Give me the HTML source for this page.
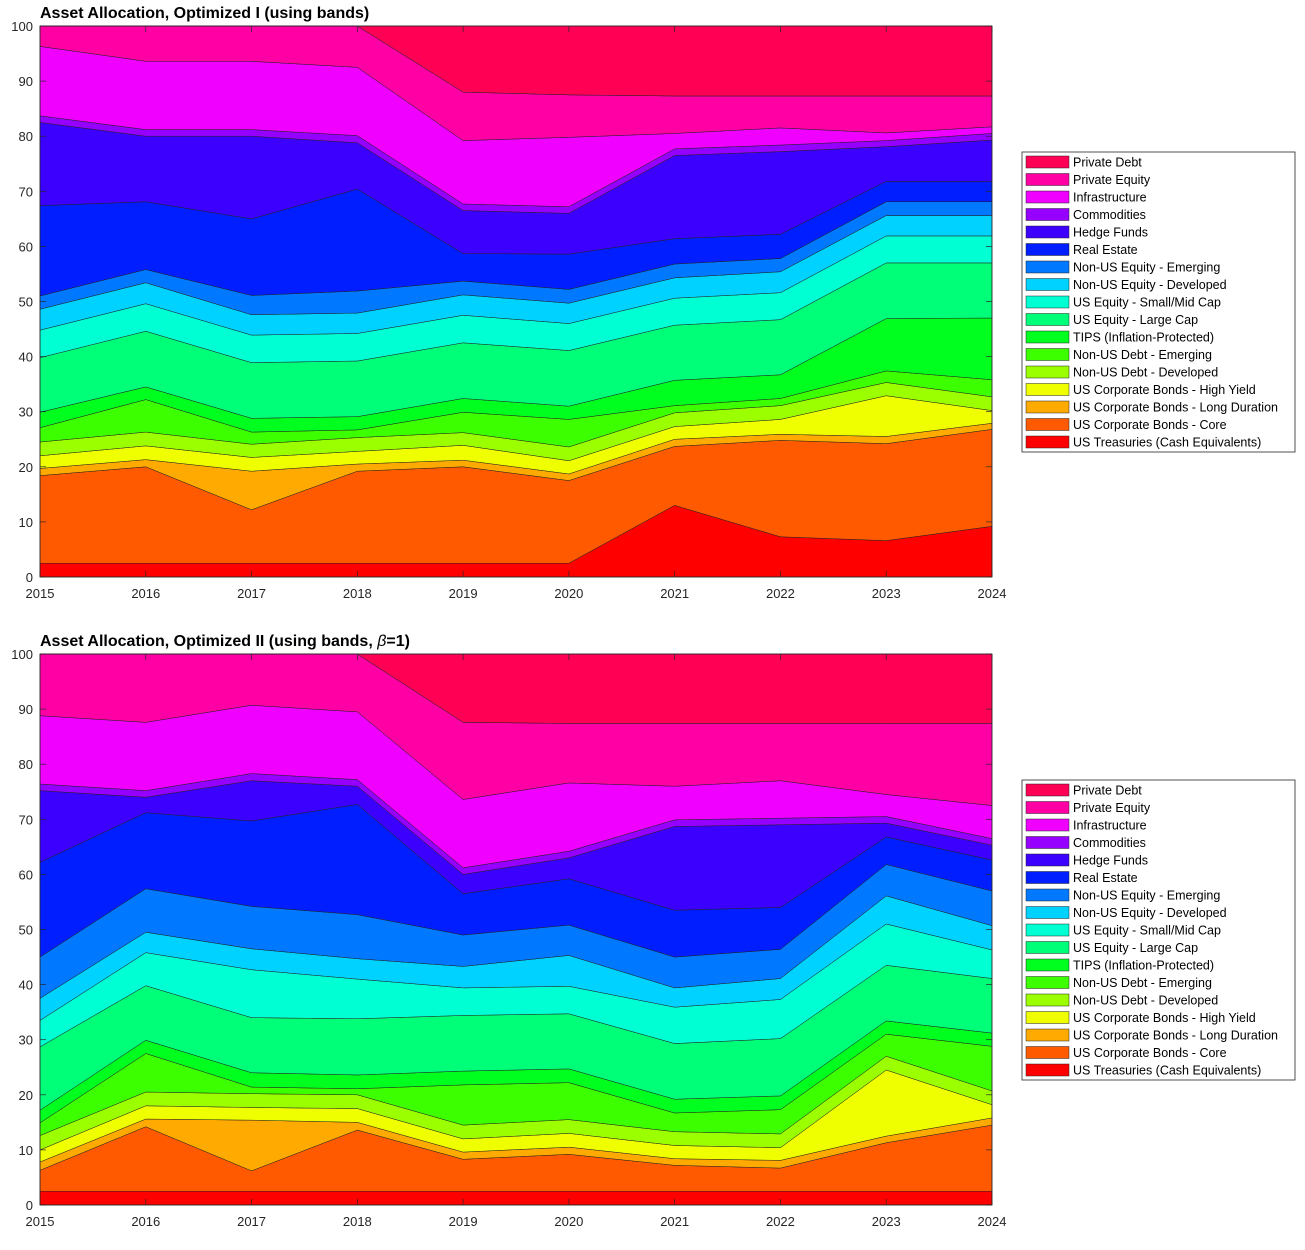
<!DOCTYPE html>
<html><head><meta charset="utf-8"><style>
body{margin:0;background:#fff;font-family:"Liberation Sans",sans-serif}
svg text{font-family:"Liberation Sans",sans-serif}
</style></head><body>
<svg id="s" width="1305" height="1245" xmlns="http://www.w3.org/2000/svg"></svg>
<script>
const years=[2015,2016,2017,2018,2019,2020,2021,2022,2023,2024];
const names=["US Treasuries (Cash Equivalents)","US Corporate Bonds - Core","US Corporate Bonds - Long Duration","US Corporate Bonds - High Yield","Non-US Debt - Developed","Non-US Debt - Emerging","TIPS (Inflation-Protected)","US Equity - Large Cap","US Equity - Small/Mid Cap","Non-US Equity - Developed","Non-US Equity - Emerging","Real Estate","Hedge Funds","Commodities","Infrastructure","Private Equity","Private Debt"];
const colors=["#ff0000","#ff5a00","#ffaa00","#f0ff00","#9bff00","#3cff00","#00ff1e","#00ff78","#00ffd2","#00d2ff","#0078ff","#001eff","#3c00ff","#9600ff","#f000ff","#ff00a5","#ff0055"];
const yTicks=[0,10,20,30,40,50,60,70,80,90,100];
// cumulative tops (%) per asset class, chart 1
const c1_t=[2.5,2.5,2.5,2.5,2.5,2.5,13,7.3,6.6,9.2];
const c1_core=[18.4,20,12.2,19.2,20,17.5,23.7,24.8,24.2,26.8];
const c1_ld=[19.7,21.3,19.2,20.5,21.2,18.7,25,25.9,25.5,27.9];
const c1_hy=[22,23.8,21.7,22.8,23.9,21.1,27.3,28.6,32.9,30.2];
const c1_ndd=[24.5,26.3,24.1,25.3,26.2,23.6,29.8,31.1,35.3,32.7];
const c1_ned=[27.1,32.2,26.3,26.7,29.9,28.6,31.1,32.4,37.4,35.8];
const c1_tips=[29.9,34.5,28.8,29.1,32.4,31,35.7,36.7,46.9,47];
const c1_lc=[39.8,44.6,38.9,39.2,42.5,41.1,45.7,46.7,57,57];
const c1_sm=[44.8,49.6,43.9,44.2,47.5,46,50.6,51.6,61.9,61.9];
const c1_neqd=[48.6,53.4,47.6,47.9,51.2,49.7,54.3,55.4,65.6,65.6];
const c1_neqe=[51,55.8,51.1,51.9,53.7,52.2,56.8,57.8,68.1,68.1];
const c1_re=[67.4,68.1,65,70.4,58.7,58.6,61.4,62.2,71.8,71.8];
const c1_hf=[82.5,80,80,78.8,66.5,66,76.5,77.2,78.1,79.3];
const c1_comm=[83.7,81.2,81.2,80.1,67.7,67.2,77.7,78.4,79.2,80.5];
const c1_infra=[96.3,93.6,93.6,92.5,79.2,79.8,80.5,81.5,80.6,81.7];
const c1_pe=[100,100,100,100,88,87.5,87.3,87.3,87.3,87.3];
const c1_pd=[100,100,100,100,100,100,100,100,100,100];
// chart 2
const c2_t=[2.5,2.5,2.5,2.5,2.5,2.5,2.5,2.5,2.5,2.5];
const c2_core=[6.3,14.2,6.2,13.6,8.3,9.2,7.2,6.7,11.3,14.5];
const c2_ld=[7.8,15.6,15.4,15,9.6,10.5,8.4,8.1,12.5,15.8];
const c2_hy=[10,18,17.7,17.5,12,13,10.8,10.4,24.5,18.2];
const c2_ndd=[12.6,20.5,20.2,20,14.5,15.5,13.3,12.9,27,20.7];
const c2_ned=[14.9,27.5,21.4,21.1,21.8,22.2,16.7,17.3,31,28.8];
const c2_tips=[17.2,29.9,24,23.6,24.3,24.7,19.2,19.8,33.4,31.2];
const c2_lc=[28.7,39.8,34,33.8,34.4,34.7,29.3,30.2,43.5,41.1];
const c2_sm=[33.5,45.8,42.7,41,39.4,39.7,35.9,37.3,51,46.3];
const c2_neqd=[37.5,49.5,46.5,44.7,43.3,45.3,39.4,41.1,56.1,50.7];
const c2_neqe=[45,57.4,54.2,52.7,49,50.8,45,46.4,61.8,57];
const c2_re=[62.2,71.2,69.7,72.7,56.5,59.2,53.5,54,66.8,62.6];
const c2_hf=[75.2,74,77,76,60,63,68.7,69,69.3,65.3];
const c2_comm=[76.4,75.2,78.3,77.2,61.2,64.2,69.9,70.2,70.5,66.5];
const c2_infra=[88.8,87.6,90.7,89.5,73.6,76.6,76,77,74.5,72.5];
const c2_pe=[100,100,100,100,87.6,87.4,87.4,87.4,87.4,87.4];
const c2_pd=[100,100,100,100,100,100,100,100,100,100];

const S=document.getElementById('s');const NS="http://www.w3.org/2000/svg";
function mk(t,a,p){const e=document.createElementNS(NS,t);for(const k in a)e.setAttribute(k,a[k]);(p||S).appendChild(e);return e;}
function chart(id,top,title,series,legTop){
  const L=40,R=992,B=top+551,H=551;
  const x=i=>L+(R-L)*(years[i]-years[0])/(years[years.length-1]-years[0]);
  const y=v=>B-H*v/100;
  const g=mk('g',{});
  
  
  let prev=years.map(()=>0);
  series.forEach((s,k)=>{
    let d='';years.forEach((_,i)=>{d+=(i?'L':'M')+x(i)+','+y(s[i]);});
    for(let i=years.length-1;i>=0;i--)d+='L'+x(i)+','+y(prev[i]);
    const p=mk('path',{d:d+'Z',fill:colors[k],stroke:'#222','stroke-width':0.5,'stroke-linejoin':'round'},g);
    
    
    prev=s;
  });
  mk('rect',{x:L,y:top,width:R-L,height:H,fill:'none',stroke:'#262626','stroke-width':0.8},g);
  yTicks.forEach(v=>{
    mk('line',{x1:L,x2:L+6,y1:y(v),y2:y(v),stroke:'#262626','stroke-width':0.7},g);
    mk('line',{x1:R-6,x2:R,y1:y(v),y2:y(v),stroke:'#262626','stroke-width':0.7},g);
    const t=mk('text',{x:L-7,y:y(v)+5,'text-anchor':'end','font-size':13,fill:'#262626'},g);t.textContent=v;
    
    
  });
  years.forEach((yr,i)=>{
    mk('line',{x1:x(i),x2:x(i),y1:B,y2:B-6,stroke:'#262626','stroke-width':0.7},g);
    mk('line',{x1:x(i),x2:x(i),y1:top,y2:top+6,stroke:'#262626','stroke-width':0.7},g);
    const t=mk('text',{x:x(i),y:B+21,'text-anchor':'middle','font-size':13,fill:'#262626'},g);t.textContent=yr;
    
    
  });
  const tt=mk('text',{x:L,y:top-8,'font-size':16,'font-weight':'bold',fill:'#000'},g);tt.innerHTML=title;
  
  
  const lg=mk('g',{},g);
  
  
  mk('rect',{x:1022,y:legTop,width:273,height:300,fill:'#fff',stroke:'#262626','stroke-width':0.8},lg);
  for(let k=16;k>=0;k--){
    const r=16-k,yy=legTop+10+r*17.5;
    const e=mk('g',{},lg);
    
    
    mk('rect',{x:1026,y:yy-6,width:43,height:12,fill:colors[k],stroke:'#222','stroke-width':0.5},e);
    const t=mk('text',{x:1073,y:yy+4.5,'font-size':12.5,fill:'#000'},e);t.textContent=names[k];
  }
}
chart('chart-optimized-1',26,'Asset Allocation, Optimized I (using bands)',[c1_t,c1_core,c1_ld,c1_hy,c1_ndd,c1_ned,c1_tips,c1_lc,c1_sm,c1_neqd,c1_neqe,c1_re,c1_hf,c1_comm,c1_infra,c1_pe,c1_pd],152);
chart('chart-optimized-2',654,'Asset Allocation, Optimized II (using bands, <tspan font-style="italic" font-weight="normal">β</tspan>=1)',[c2_t,c2_core,c2_ld,c2_hy,c2_ndd,c2_ned,c2_tips,c2_lc,c2_sm,c2_neqd,c2_neqe,c2_re,c2_hf,c2_comm,c2_infra,c2_pe,c2_pd],780);
</script>
</body></html>
